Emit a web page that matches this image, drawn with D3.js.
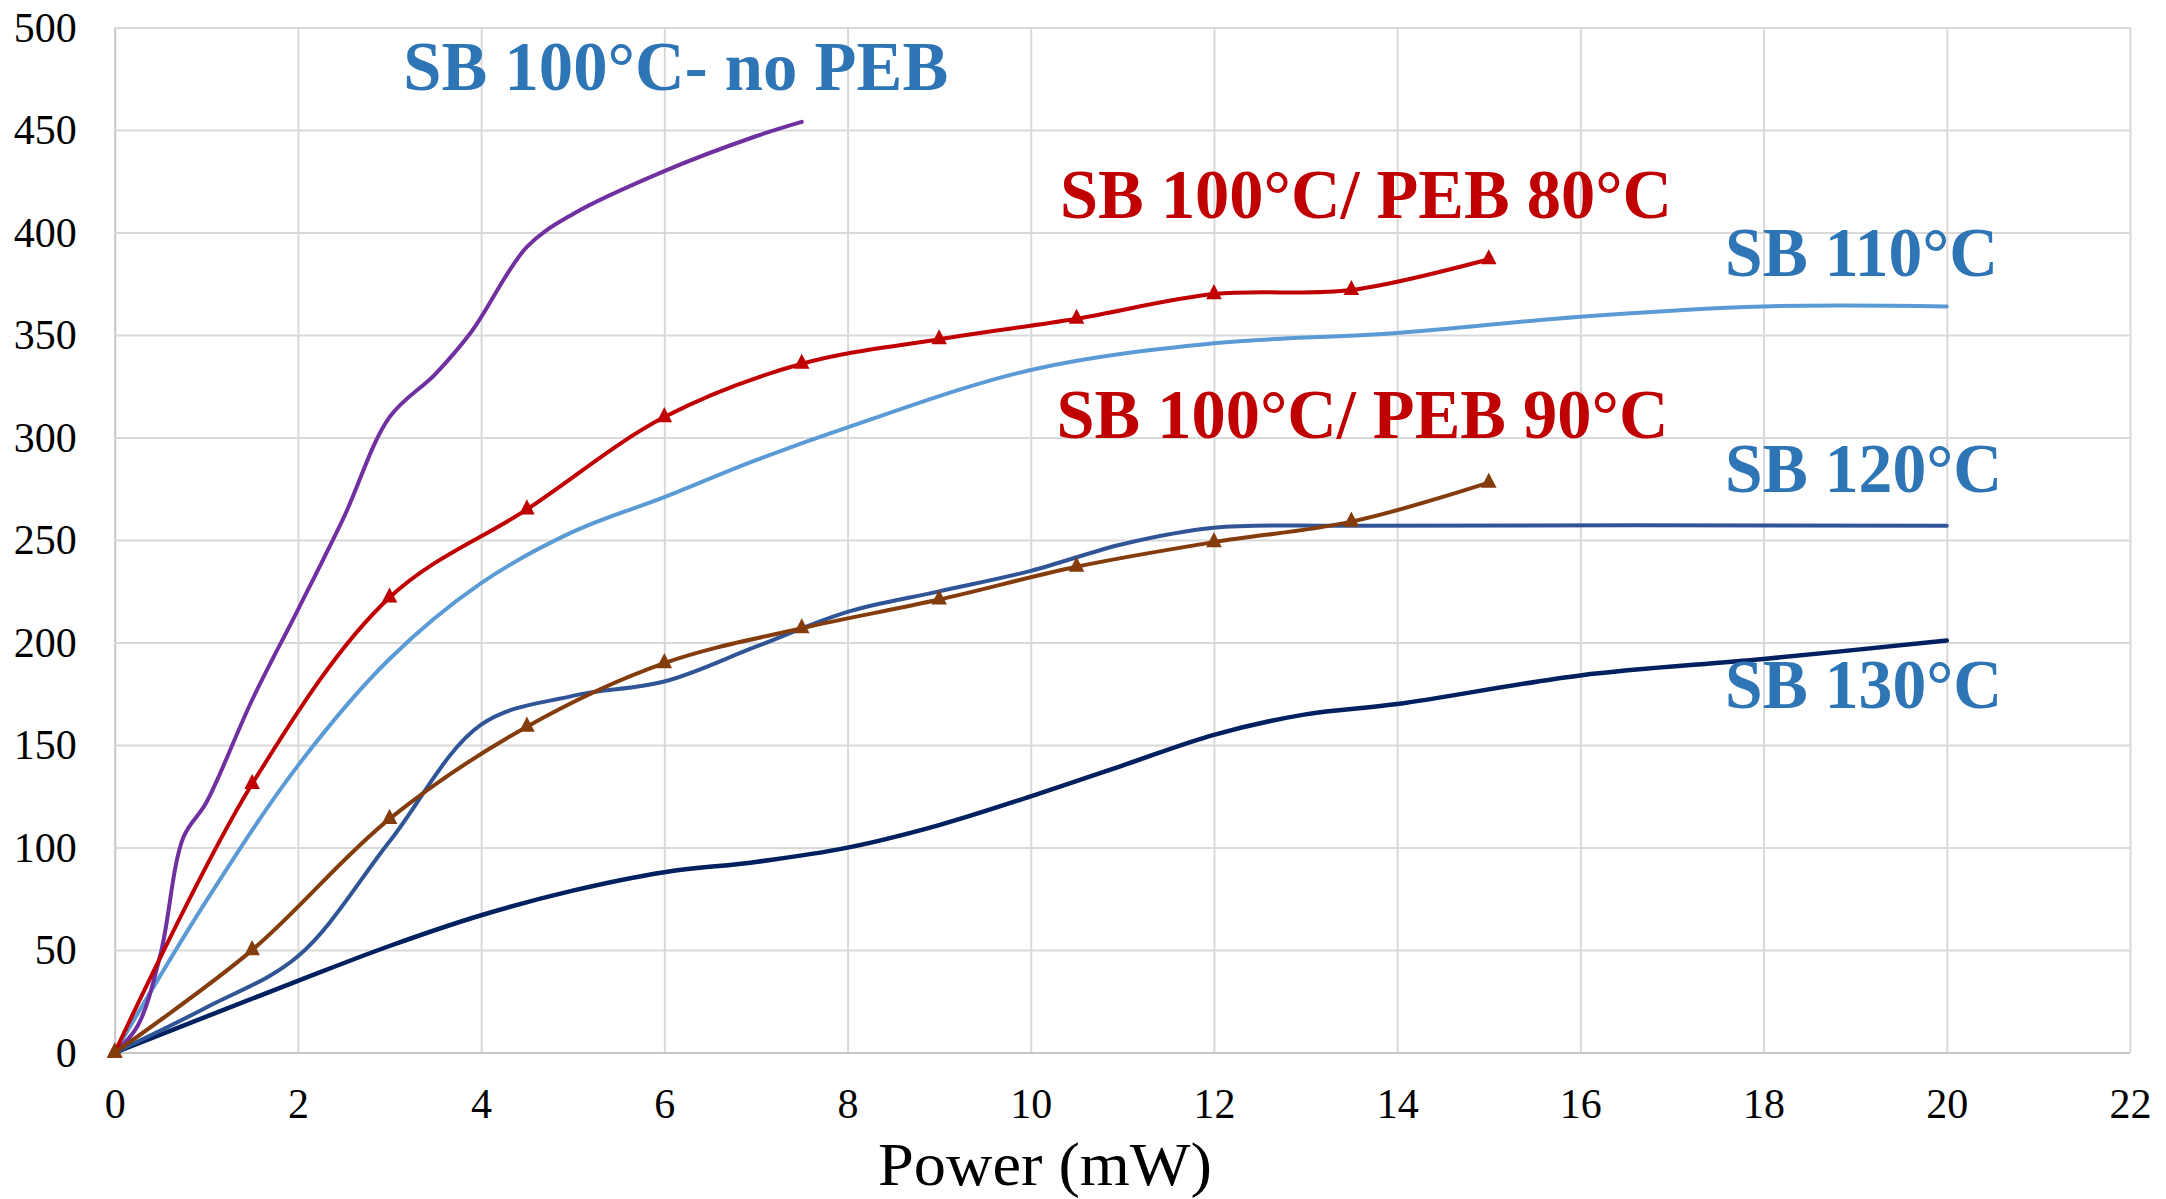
<!DOCTYPE html>
<html>
<head>
<meta charset="utf-8">
<script src="https://cdn.jsdelivr.net/npm/d3@7"></script>
<style>
  body { margin: 0; background: #fff; }
</style>
</head>
<body>
<div class="chart-container"></div>
<script>
const serif = "'Liberation Serif', 'Times New Roman', Times, serif";

// tick labels
const xTicks = [0, 2, 4, 6, 8, 10, 12, 14, 16, 18, 20, 22];
const yTicks = [0, 50, 100, 150, 200, 250, 300, 350, 400, 450, 500];

// SB 100°C- no PEB (smooth line, no markers)
const noPebPower = [0, 0.25, 0.5, 0.75, 1, 1.5, 2, 2.5, 3, 3.5, 3.9, 4.5, 5, 6, 7, 7.5];
const noPebDepth = [0, 13, 48, 105, 122, 172, 216, 261, 310, 331, 352, 393, 409, 430, 447, 454];

// PEB series share the same power steps (triangle markers)
const pebPower = [0, 1.5, 3, 4.5, 6, 7.5, 9, 10.5, 12, 13.5, 15];
const peb80Depth = [0, 131, 222, 265, 310, 336, 348, 358, 370, 372, 387];
const peb90Depth = [0, 50, 114, 159, 190, 207, 221, 237, 249, 259, 278];

// SB 110°C
const sb110Power = [0, 1, 2, 3, 4, 5, 6, 7, 8, 10, 12, 14, 16, 18, 20];
const sb110Depth = [0, 74, 140, 192, 229, 254, 271, 289, 305, 333, 346, 351, 359, 364, 364];

// SB 120°C
const sb120Power = [0, 1, 2, 3, 4, 5, 6, 7, 8, 9, 10, 11, 12, 13.5, 20];
const sb120Depth = [0, 22, 47, 103, 160, 174, 181, 198, 215, 225, 235, 248, 256, 257, 257];

// SB 130°C
const sb130Power = [0, 2, 3, 4, 5, 6, 7, 8, 9, 10, 11, 12, 13, 14, 16, 18, 20];
const sb130Depth = [0, 35, 52, 67, 79, 88, 93, 100, 111, 125, 140, 155, 165, 170, 184, 192, 201];

// label texts
const labelTexts = ['SB 100°C- no PEB', 'SB 100°C/ PEB 80°C', 'SB 100°C/ PEB 90°C', 'SB 110°C', 'SB 120°C', 'SB 130°C'];

const zip = (xs, ys) => xs.map((x, i) => ({x: x, y: ys[i]}));

// draw order: last one ends up on top
const series = [
  {values: zip(sb130Power, sb130Depth), color: '#002060', width: 4.5, marker: false},
  {values: zip(sb120Power, sb120Depth), color: '#2F5597', width: 4, marker: false},
  {values: zip(sb110Power, sb110Depth), color: '#5B9BD5', width: 4, marker: false},
  {values: zip(noPebPower, noPebDepth), color: '#7030A0', width: 4, marker: false},
  {values: zip(pebPower, peb80Depth), color: '#C00000', width: 4, marker: true},
  {values: zip(pebPower, peb90Depth), color: '#843C0C', width: 4, marker: true}
];

// layout
const margin = {top: 27.6, right: 36, bottom: 146.4, left: 114.7};
const width = 2166 - margin.left - margin.right;
const height = 1199 - margin.top - margin.bottom;

const svg = d3.select('.chart-container')
  .append('svg')
  .attr('width', 2166)
  .attr('height', 1199)
  .style('font-family', serif);

const chart = svg.append('g')
  .attr('transform', `translate(${margin.left}, ${margin.top})`);

const xScale = d3.scaleLinear().domain([0, 22]).range([0, width]);
const yScale = d3.scaleLinear().domain([0, 500]).range([height, 0]);

// gridlines + tick labels
const xAxis = d3.axisBottom(xScale)
  .tickValues(xTicks)
  .tickSize(-height)
  .tickPadding(35.5)
  .tickFormat(d3.format('d'));

const yAxis = d3.axisLeft(yScale)
  .tickValues(yTicks)
  .tickSize(-width)
  .tickPadding(38)
  .tickFormat(d3.format('d'));

const xAxisDraw = chart.append('g')
  .attr('transform', `translate(0, ${height})`)
  .call(xAxis);

const yAxisDraw = chart.append('g')
  .call(yAxis);

[xAxisDraw, yAxisDraw].forEach(ax => {
  ax.attr('font-family', null).attr('font-size', null);
  ax.select('.domain').remove();
  ax.selectAll('line')
    .attr('stroke', '#D9D9D9')
    .attr('stroke-width', 2);
  ax.selectAll('text')
    .attr('fill', '#000')
    .style('font-family', serif)
    .style('font-size', '42px');
});

// axis lines a bit darker than the grid
yAxisDraw.selectAll('.tick')
  .filter(d => d === 0)
  .select('line')
  .attr('stroke', '#C6C6C6');
xAxisDraw.selectAll('.tick')
  .filter(d => d === 0)
  .select('line')
  .attr('stroke', '#C6C6C6');

// x axis title
svg.append('text')
  .attr('x', 878)
  .attr('y', 1185)
  .attr('textLength', 334)
  .attr('lengthAdjust', 'spacingAndGlyphs')
  .style('font-family', serif)
  .style('font-size', '61px')
  .attr('fill', '#000')
  .text('Power (mW)');

// the lines
const line = d3.line()
  .x(d => xScale(d.x))
  .y(d => yScale(d.y))
  .curve(d3.curveCatmullRom.alpha(0.5));

series.forEach(s => {
  chart.append('path')
    .datum(s.values)
    .attr('fill', 'none')
    .attr('stroke', s.color)
    .attr('stroke-width', s.width)
    .attr('stroke-linejoin', 'round')
    .attr('stroke-linecap', 'round')
    .attr('d', line);

  if (s.marker) {
    chart.selectAll(null)
      .data(s.values)
      .join('path')
      .attr('transform', d => `translate(${xScale(d.x)}, ${yScale(d.y)}) scale(1, 1.12)`)
      .attr('d', d3.symbol(d3.symbolTriangle, 105))
      .attr('fill', s.color);
  }
});

// series labels, placed in data space
const labelSpots = [
  {at: [3.15, 469.6], len: 545, color: '#2E75B6'},
  {at: [10.32, 407.1], len: 612, color: '#C00000'},
  {at: [10.28, 299.8], len: 612, color: '#C00000'},
  {at: [17.58, 378.8], len: 273, color: '#2E75B6'},
  {at: [17.58, 273.5], len: 277, color: '#2E75B6'},
  {at: [17.58, 168.1], len: 277, color: '#2E75B6'}
];

chart.selectAll('.series-label')
  .data(labelTexts)
  .join('text')
  .attr('class', 'series-label')
  .attr('x', (d, i) => xScale(labelSpots[i].at[0]))
  .attr('y', (d, i) => yScale(labelSpots[i].at[1]))
  .attr('textLength', (d, i) => labelSpots[i].len)
  .attr('lengthAdjust', 'spacingAndGlyphs')
  .attr('fill', (d, i) => labelSpots[i].color)
  .style('font-family', serif)
  .style('font-size', '70px')
  .style('font-weight', 'bold')
  .text(d => d);
</script>
</body>
</html>
